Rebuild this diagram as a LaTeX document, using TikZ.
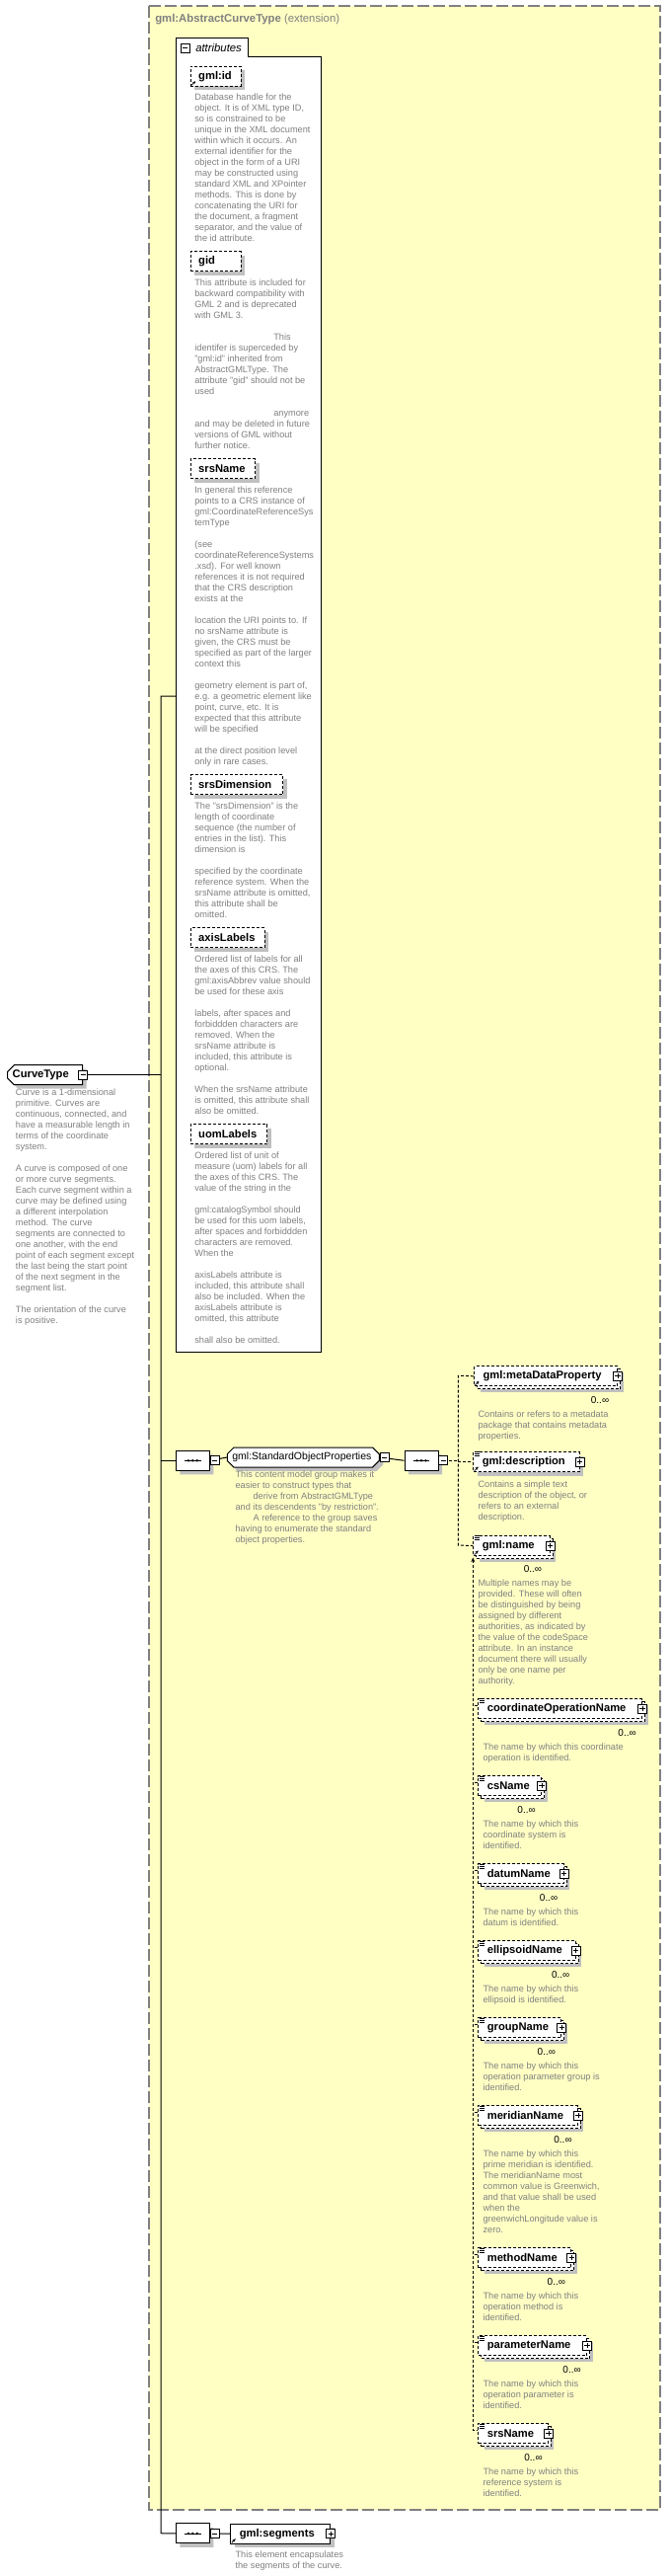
\documentclass[tikz,border=0pt]{standalone}
\usepackage{fontspec}
\setmainfont{Liberation Sans}
\usetikzlibrary{arrows.meta, positioning, shapes.misc, shadows}
\definecolor{XsdYellow}{HTML}{FFFFC4}
\definecolor{XsdGray}{HTML}{808080}
\definecolor{XsdShade}{HTML}{C0C0C0}

\tikzset{
  shade1/.style={drop shadow={fill=XsdShade, opacity=1, shadow xshift=3pt, shadow yshift=-3pt}},
  shade2/.style={drop shadow={fill=XsdShade, opacity=1, shadow xshift=4.5pt, shadow yshift=-4.5pt},
    general shadow={draw=black, fill=white, dash pattern=on 2.25pt off 1.5pt, shadow xshift=2.25pt, shadow yshift=-2.25pt}},
  desc/.style={anchor=north west, inner sep=0pt, align=left, text=XsdGray,
    font=\fontsize{6.9pt}{8.25pt}\selectfont, execute at begin node={\rule{0pt}{6pt}}},
  namebox/.style={draw, fill=white, anchor=north west, minimum height=15pt, inner ysep=0pt,
    align=left, line width=0.75pt, font=\bfseries\fontsize{8.4pt}{10pt}\selectfont},
  attrbox/.style={namebox, dash pattern=on 2.25pt off 1.5pt, inner xsep=6pt, shade1},
  elembox/.style={namebox, dash pattern=on 2.25pt off 1.5pt, inner xsep=6.75pt},
  seqbox/.style={chamfered rectangle, chamfered rectangle sep=3.5pt, draw, fill=white, line width=0.75pt,
    anchor=north west, minimum width=25.5pt, minimum height=15pt, inner sep=0pt, shade1},
  mult/.style={inner sep=0pt, font=\fontsize{7.5pt}{9pt}\selectfont},
  link/.style={line width=0.75pt},
  optlink/.style={line width=0.75pt, dash pattern=on 2.25pt off 1.5pt},
  iconbox/.style={draw, fill=white, minimum size=6.75pt, inner sep=0pt, line width=0.6pt},
  minusbox/.style={iconbox, path picture={\draw[line width=0.6pt]
    ([xshift=1.4pt]path picture bounding box.west) -- ([xshift=-1.4pt]path picture bounding box.east);}},
  plusbox/.style={iconbox, path picture={\draw[line width=0.6pt]
    ([xshift=1.4pt]path picture bounding box.west) -- ([xshift=-1.4pt]path picture bounding box.east)
    ([yshift=-1.4pt]path picture bounding box.north) -- ([yshift=1.4pt]path picture bounding box.south);}},
}

\begin{document}
\begin{tikzpicture}[x=0.75pt, y=-0.75pt]
  \useasboundingbox (0,0) rectangle (680,2609);
  % Extension frame
  \draw[XsdGray, fill=XsdYellow, line width=0.9pt, dash pattern=on 9pt off 3pt] (151,6) rectangle (669,2542);
  \node[anchor=west, inner sep=0pt, text=XsdGray, font=\fontsize{8.5pt}{10pt}\selectfont] (title) at (157,19.3)
    {\textbf{gml:AbstractCurveType} (extension)};

  % Attributes panel
  \draw[fill=white, line width=0.75pt] (178,38) -- (251,38) -- (251,57) -- (325,57) -- (325,1369) -- (178,1369) -- cycle;
  \node[minusbox] (attr-m) at (187.5,48.7) {};
  \node[anchor=west, inner sep=0pt, font=\itshape\fontsize{8.5pt}{10pt}\selectfont] (attr) at (198,48.7) {attributes};
  \coordinate (attrin) at (178,705);

  \node[attrbox, text width=26.25pt] (gmlid) at (192.7,66.7) {gml:id};
  \node[desc, below right=5.3pt and 3.3pt of gmlid.south west] (gmlid-d) {Database handle for the\\
    object.  It is of XML type ID,\\so is constrained to be\\unique in the XML document\\
    within which it occurs.  An\\external identifier for the\\object in the form of a URI\\
    may be constructed using\\standard XML and XPointer\\methods.  This is done by\\
    concatenating the URI for\\the document, a fragment\\separator, and the value of\\the id attribute.};

  \node[attrbox, text width=26.25pt] (gid) at (192.7,254) {gid};
  \node[desc, below right=5.7pt and 3.3pt of gid.south west] (gid-d) {This attribute is included for\\
    backward compatibility with\\GML 2 and is deprecated\\with GML 3.\\\mbox{}\\
    \hspace*{60pt}This\\identifer is superceded by\\"gml:id" inherited from\\AbstractGMLType. The\\
    attribute "gid" should not be\\used\\\mbox{}\\\hspace*{60pt}anymore\\
    and may be deleted in future\\versions of GML without\\further notice.};

  \node[attrbox, text width=37pt] (srsname) at (192.7,464.3) {srsName};
  \node[desc, below right=5.6pt and 3.3pt of srsname.south west] (srsname-d) {In general this reference\\
    points to a CRS instance of\\gml:CoordinateReferenceSys\\temType\\\mbox{}\\(see\\
    coordinateReferenceSystems\\.xsd). For well known\\references it is not required\\
    that the CRS description\\exists at the\\\mbox{}\\location the URI points to. If\\
    no srsName attribute is\\given, the CRS must be\\specified as part of the larger\\
    context this\\\mbox{}\\geometry element is part of,\\e.g. a geometric element like\\
    point, curve, etc. It is\\expected that this attribute\\will be specified\\\mbox{}\\
    at the direct position level\\only in rare cases.};

  \node[attrbox, text width=58.3pt] (srsdim) at (192.7,784.3) {srsDimension};
  \node[desc, below right=5.5pt and 3.3pt of srsdim.south west] (srsdim-d) {The "srsDimension" is the\\
    length of coordinate\\sequence (the number of\\entries in the list). This\\dimension is\\\mbox{}\\
    specified by the coordinate\\reference system. When the\\srsName attribute is omitted,\\
    this attribute shall be\\omitted.};

  \node[attrbox, text width=44.25pt] (axislbl) at (192.7,939.3) {axisLabels};
  \node[desc, below right=5.5pt and 3.3pt of axislbl.south west] (axislbl-d) {Ordered list of labels for all\\
    the axes of this CRS. The\\gml:axisAbbrev value should\\be used for these axis\\\mbox{}\\
    labels, after spaces and\\forbiddden characters are\\removed. When the\\srsName attribute is\\
    included, this attribute is\\optional.\\\mbox{}\\When the srsName attribute\\
    is omitted, this attribute shall\\also be omitted.};

  \node[attrbox, text width=46.3pt] (uomlbl) at (192.7,1138.3) {uomLabels};
  \node[desc, below right=5.5pt and 3.3pt of uomlbl.south west] (uomlbl-d) {Ordered list of unit of\\
    measure (uom) labels for all\\the axes of this CRS. The\\value of the string in the\\\mbox{}\\
    gml:catalogSymbol should\\be used for this uom labels,\\after spaces and forbiddden\\
    characters are removed.\\When the\\\mbox{}\\axisLabels attribute is\\
    included, this attribute shall\\also be included. When the\\axisLabels attribute is\\
    omitted, this attribute\\\mbox{}\\shall also be omitted.};

  % Complex type
  \node[namebox, chamfered rectangle, chamfered rectangle corners={north west, south west},
    chamfered rectangle sep=2.5pt, inner xsep=1.25pt, text width=49.5pt, shade1] (curve) at (10.7,1081.7) {CurveType};
  \node[desc, below right=5pt and 3.75pt of curve.south west] (curve-d) {Curve is a 1-dimensional\\
    primitive. Curves are\\continuous, connected, and\\have a measurable length in\\
    terms of the coordinate\\system.\\\mbox{}\\A curve is composed of one\\or more curve segments.\\
    Each curve segment within a\\curve may be defined using\\a different interpolation\\
    method. The curve\\segments are connected to\\one another, with the end\\
    point of each segment except\\the last being the start point\\of the next segment in the\\
    segment list.\\\mbox{}\\The orientation of the curve\\is positive.};

  % Sequence and group
  \node[seqbox] (seqA) at (178.3,1469) {};
  \node[namebox, chamfered rectangle, chamfered rectangle sep=2.5pt, inner xsep=1.25pt, text width=108pt,
    font=\fontsize{7.9pt}{10pt}\selectfont, shade1] (stdprops) at (233.3,1469) {gml:StandardObjectProperties};
  \node[desc, below right=5pt and 3.75pt of stdprops.south west] (stdprops-d) {This content model group makes it\\
    easier to construct types that\\\hspace*{13.5pt}derive from AbstractGMLType\\
    and its descendents "by restriction".\\\hspace*{13.5pt}A reference to the group saves\\
    having to enumerate the standard\\object properties.};
  \node[seqbox] (seqB) at (410,1469) {};
  \node[seqbox] (seqC) at (178.3,2555.7) {};

  % Elements of the group
  \node[elembox, shade2, text width=95.25pt] (meta) at (480,1383.3) {gml:metaDataProperty};
  \node[mult] (meta-m) at ([xshift=-13.5pt, yshift=-10pt]meta.south east) {0..∞};
  \node[desc, below right=18pt and 3.2pt of meta.south west] (meta-d) {Contains or refers to a metadata\\
    package that contains metadata\\properties.};
  \node[elembox, shade1, text width=67pt] (descr) at (479.3,1470) {gml:description};
  \node[desc, below right=6.5pt and 3.75pt of descr.south west] (descr-d) {Contains a simple text\\
    description of the object, or\\refers to an external\\description.};
  \node[elembox, shade2, text width=44.5pt] (name) at (479.3,1555) {gml:name};
  \node[mult] (name-m) at ([xshift=-13.3pt, yshift=-10pt]name.south east) {0..∞};
  \node[desc, below right=17.5pt and 3.75pt of name.south west] (name-d) {Multiple names may be\\
    provided.  These will often\\be distinguished by being\\assigned by different\\
    authorities, as indicated by\\the value of the codeSpace\\attribute.  In an instance\\
    document there will usually\\only be one name per\\authority.};

  % Substitution group of gml:name
  \foreach \n/\lbl/\ty/\tw/\dtext in {
    coordop/coordinateOperationName/1720/110.8pt/{The name by which this coordinate\\operation is identified.},
    csname/csName/1798.3/34.3pt/{The name by which this\\coordinate system is\\identified.},
    datum/datumName/1887.3/51.2pt/{The name by which this\\datum is identified.},
    ellips/ellipsoidName/1965.3/60.3pt/{The name by which this\\ellipsoid is identified.},
    group/groupName/2043.3/49.5pt/{The name by which this\\operation parameter group is\\identified.},
    merid/meridianName/2132.3/62pt/{The name by which this\\prime meridian is identified.\\The meridianName most\\common value is Greenwich,\\and that value shall be used\\when the\\greenwichLongitude value is\\zero.},
    method/methodName/2276.3/57pt/{The name by which this\\operation method is\\identified.},
    param/parameterName/2365.3/68.8pt/{The name by which this\\operation parameter is\\identified.},
    srssub/srsName/2454.3/39.5pt/{The name by which this\\reference system is\\identified.}}
  {
    \node[elembox, shade2, text width=\tw] (\n) at (484.3,\ty) {\lbl};
    \node[mult] (\n-m) at ([xshift=-11.6pt, yshift=-10.5pt]\n.south east) {0..∞};
    \node[desc, below right=18.4pt and 3.75pt of \n.south west] (\n-d) {\dtext};
  }

  % Last element
  \node[namebox, inner xsep=6.75pt, text width=62.25pt, shade1] (segs) at (233.3,2555.7) {gml:segments};
  \node[desc, below right=5.25pt and 3.75pt of segs.south west] (segs-d) {This element encapsulates\\
    the segments of the curve.};

  % Connectors
  \coordinate (jtop) at (163,705);
  \coordinate (jbot) at (163,2565.7);
  \draw[link] (attrin) -- (jtop) -- (jbot) -- (seqC.west);
  \draw[link] (curve.east) -- (curve.east -| jtop);
  \draw[link] (seqA.west -| jtop) -- (seqA.west);
  \draw[link] (seqA.east) -- (stdprops.west);
  \draw[link] (stdprops.east) -- (seqB.west);
  \draw[link] (seqC.east) -- (segs.west);
  \coordinate (sqtop) at (464.3,1393.3);
  \coordinate (sqbot) at (464.3,1565);
  \draw[optlink] (meta.west) -- (sqtop) -- (sqbot) -- (name.west);
  \draw[optlink] (seqB.east) -- (seqB.east -| sqtop);
  \draw[optlink] (descr.west -| sqtop) -- (descr.west);
  \coordinate (sbtop) at (479.3,1577.5);
  \coordinate (sbbot) at (479.3,2461.3);
  \draw[optlink, {Stealth[length=3.5pt, width=3pt]}-] (sbtop) -- (sbbot) -- (srssub.west |- sbbot);
  \foreach \n in {coordop, csname, datum, ellips, group, merid, method, param}
    \draw[optlink] ([yshift=-5.25pt]\n.north west) -- +(-3.75pt,0pt);

  % Icons
  \node[minusbox] (curve-i) at (curve.east) {};
  \foreach \s in {seqA, seqB, seqC, stdprops}
    \node[minusbox] (\s-i) at ([xshift=3.6pt]\s.east) {};
  \foreach \n in {meta, descr, name, coordop, csname, datum, ellips, group, merid, method, param, srssub, segs}
    \node[plusbox] (\n-i) at (\n.east) {};
  \foreach \s in {seqA, seqB, seqC} {
    \draw[line width=0.6pt] ([xshift=-6.2pt]\s.center) -- ([xshift=6.2pt]\s.center);
    \foreach \dx in {-3.3pt, 0pt, 3.3pt}
      \fill ([xshift=\dx]\s.center) circle (1pt);
  }
  \foreach \n in {descr, name, coordop, csname, datum, ellips, group, merid, method, param, srssub}
    \foreach \d in {0.6pt, 2pt, 3.4pt}
      \draw[line width=0.5pt] ([xshift=1.4pt, yshift=-\d]\n.north west) -- +(3.4pt,0pt);
  \foreach \n in {gmlid, meta, descr, name, segs}
    \draw[line width=0.6pt, -{Stealth[length=2.4pt, width=2.2pt]}] ([xshift=1.1pt, yshift=1.1pt]\n.south west) -- +(3pt,3pt);
\end{tikzpicture}
\end{document}
